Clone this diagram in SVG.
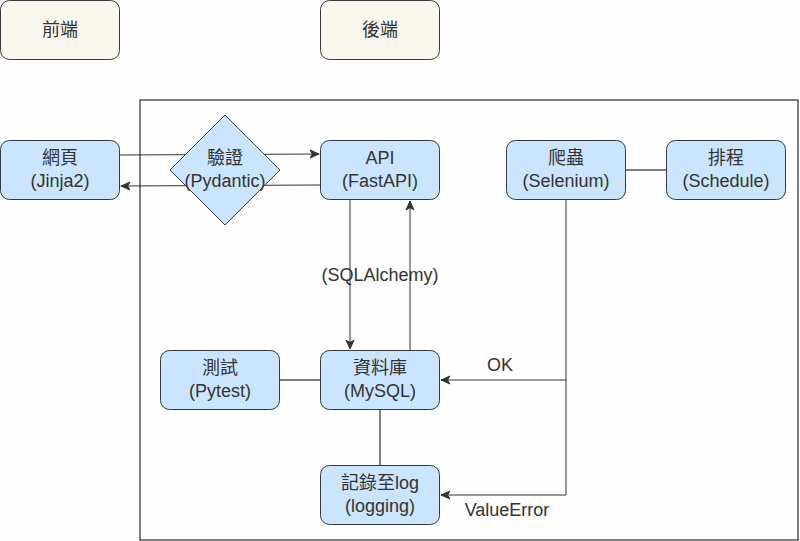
<svg xmlns="http://www.w3.org/2000/svg" width="800" height="541" viewBox="0 0 800 541">
<style>
.bg{fill:#fdfdfd}
.n{fill:#cce5ff;stroke:#36393d;stroke-width:1}
.h{fill:#f9f7ed;stroke:#36393d;stroke-width:1}
text{font-family:"Liberation Sans","Noto Sans CJK TC",sans-serif;font-size:18px;fill:#333;text-anchor:middle;dominant-baseline:central}
.e{fill:none;stroke:#333;stroke-width:1}
.k{fill:none;stroke:#000;stroke-width:1}
</style>
<defs>
<marker id="a" viewBox="0 0 10 10" refX="9" refY="5" markerWidth="10" markerHeight="10" markerUnits="userSpaceOnUse" orient="auto">
<path d="M0,1 L9,5 L0,9 L2.5,5 Z" fill="#333" stroke="#333" stroke-width="1"/>
</marker>
</defs>
<rect class="bg" x="0" y="0" width="800" height="541"/>
<rect x="140" y="100" width="658" height="440" fill="none" stroke="#000" stroke-width="1"/>
<g id="frontend"><rect class="h" x="0.5" y="0.5" width="119" height="59" rx="9"/><text x="60" y="30">前端</text></g>
<g id="backend"><rect class="h" x="320.5" y="0.5" width="119" height="59" rx="9"/><text x="380" y="30">後端</text></g>
<g id="connectors">
<path class="e" d="M120,155 L319,154" marker-end="url(#a)"/>
<path class="e" d="M320,185 L121,186" marker-end="url(#a)"/>
<path class="e" d="M350,200 L350,349" marker-end="url(#a)"/>
<path class="e" d="M410,350 L410,201" marker-end="url(#a)"/>
<path class="k" d="M626,170 L666,170"/>
<path class="k" d="M280,380 L320,380"/>
<path class="k" d="M380,410 L380,465"/>
<path class="e" d="M566,200 L566,380 L441,380" marker-end="url(#a)"/>
<path class="e" d="M566,380 L566,495 L441,495" marker-end="url(#a)"/>
<text x="380" y="275">(SQLAlchemy)</text>
<text x="500" y="365">OK</text>
<text x="507" y="510">ValueError</text>
</g>
<g id="web"><rect class="n" x="0.5" y="140.5" width="119" height="59" rx="9"/><text x="60" y="158">網頁</text><text x="60" y="181">(Jinja2)</text></g>
<g id="validate"><path class="n" d="M225,115 L280,170 L225,225 L170,170 Z"/><text x="225" y="158">驗證</text><text x="225" y="181">(Pydantic)</text></g>
<g id="api"><rect class="n" x="320.5" y="140.5" width="119" height="59" rx="9"/><text x="380" y="158">API</text><text x="380" y="181">(FastAPI)</text></g>
<g id="crawler"><rect class="n" x="506.5" y="140.5" width="119" height="59" rx="9"/><text x="566" y="158">爬蟲</text><text x="566" y="181">(Selenium)</text></g>
<g id="schedule"><rect class="n" x="666.5" y="140.5" width="119" height="59" rx="9"/><text x="726" y="158">排程</text><text x="726" y="181">(Schedule)</text></g>
<g id="test"><rect class="n" x="160.5" y="350.5" width="119" height="59" rx="9"/><text x="220" y="368">測試</text><text x="220" y="391">(Pytest)</text></g>
<g id="db"><rect class="n" x="320.5" y="350.5" width="119" height="59" rx="9"/><text x="380" y="368">資料庫</text><text x="380" y="391">(MySQL)</text></g>
<g id="log"><rect class="n" x="320.5" y="465.5" width="119" height="59" rx="9"/><text x="380" y="483">記錄至log</text><text x="380" y="506">(logging)</text></g>
</svg>
